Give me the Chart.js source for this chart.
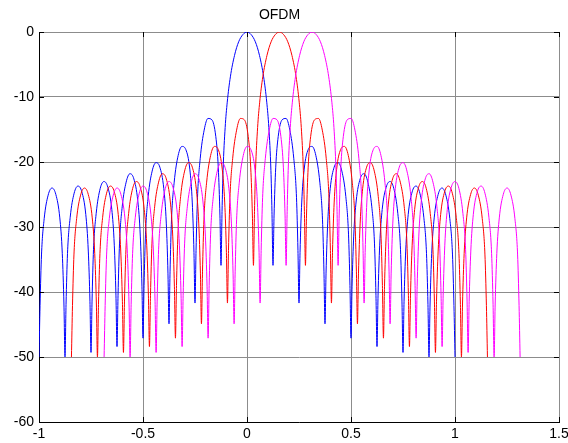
<!DOCTYPE html>
<html>
<head>
<meta charset="utf-8">
<title>OFDM</title>
<script src="https://cdn.jsdelivr.net/npm/chart.js@4.4.1/dist/chart.umd.min.js"></script>
<style>
  body { margin: 0; background: #fff; }
</style>
</head>
<body>
<canvas id="ofdm" width="568" height="443"></canvas>
<script>
// three subcarriers, same spectrum shape, centred at these frequencies
var carrierNames = ["Subcarrier 1", "Subcarrier 2", "Subcarrier 3"];
var carrierFreq = [0, 0.156, 0.313];
var carrierColors = ["#0000ff", "#ff0000", "#ff00ff"];

// frequency offset from the carrier centre
var offsetFreq = [
    -1,
    -0.995, -0.988, -0.975, -0.956, -0.9375, -0.919, -0.9, -0.888, -0.88,
    -0.875,
    -0.87, -0.863, -0.85, -0.831, -0.8125, -0.794, -0.775, -0.763, -0.755,
    -0.75,
    -0.745, -0.738, -0.725, -0.706, -0.6875, -0.669, -0.65, -0.638, -0.63,
    -0.625,
    -0.62, -0.613, -0.6, -0.581, -0.5625, -0.544, -0.525, -0.513, -0.505,
    -0.5,
    -0.495, -0.488, -0.475, -0.456, -0.4375, -0.419, -0.4, -0.388, -0.38,
    -0.375,
    -0.37, -0.363, -0.35, -0.331, -0.3125, -0.294, -0.275, -0.263, -0.255,
    -0.25,
    -0.245, -0.238, -0.225, -0.206, -0.1875, -0.169, -0.15, -0.138, -0.13,
    -0.125,
    -0.12, -0.115, -0.105, -0.095, -0.08, -0.06, -0.04, -0.02,
    0,
    0.02, 0.04, 0.06, 0.08, 0.095, 0.105, 0.115, 0.12,
    0.125,
    0.13, 0.138, 0.15, 0.169, 0.1875, 0.206, 0.225, 0.238, 0.245,
    0.25,
    0.255, 0.263, 0.275, 0.294, 0.3125, 0.331, 0.35, 0.363, 0.37,
    0.375,
    0.38, 0.388, 0.4, 0.419, 0.4375, 0.456, 0.475, 0.488, 0.495,
    0.5,
    0.505, 0.513, 0.525, 0.544, 0.5625, 0.581, 0.6, 0.613, 0.62,
    0.625,
    0.63, 0.638, 0.65, 0.669, 0.6875, 0.706, 0.725, 0.738, 0.745,
    0.75,
    0.755, 0.763, 0.775, 0.794, 0.8125, 0.831, 0.85, 0.863, 0.87,
    0.875,
    0.88, 0.888, 0.9, 0.919, 0.9375, 0.956, 0.975, 0.988, 0.995,
    1
];

// spectrum level in dB (floor at -50)
var levelDb = [
    -50,
    -42.1, -34.3, -28.7, -25.1, -24.0, -25.0, -28.6, -34.1, -42.0,
    -50,
    -41.9, -34.1, -28.5, -24.8, -23.7, -24.6, -28.1, -33.7, -41.5,
    -49.3,
    -41.4, -33.5, -27.9, -24.1, -23.0, -23.9, -27.3, -32.8, -40.6,
    -48.4,
    -40.5, -32.6, -26.9, -23.1, -21.8, -22.6, -26.0, -31.4, -39.2,
    -47.1,
    -39.0, -31.1, -25.3, -21.4, -20.1, -20.8, -24.1, -29.4, -37.1,
    -44.9,
    -36.9, -28.9, -23.1, -19.0, -17.6, -18.1, -21.1, -26.3, -33.9,
    -41.7,
    -33.6, -25.5, -19.5, -15.1, -13.3, -13.5, -16.1, -20.9, -28.3,
    -35.9,
    -27.6, -21.3, -14.7, -10.8, -6.9, -3.6, -1.5, -0.4,
    0,
    -0.4, -1.5, -3.6, -6.9, -10.8, -14.7, -21.3, -27.6,
    -35.9,
    -28.3, -20.9, -16.1, -13.5, -13.3, -15.1, -19.5, -25.5, -33.6,
    -41.7,
    -33.9, -26.3, -21.1, -18.1, -17.6, -19.0, -23.1, -28.9, -36.9,
    -44.9,
    -37.1, -29.4, -24.1, -20.8, -20.1, -21.4, -25.3, -31.1, -39.0,
    -47.1,
    -39.2, -31.4, -26.0, -22.6, -21.8, -23.1, -26.9, -32.6, -40.5,
    -48.4,
    -40.6, -32.8, -27.3, -23.9, -23.0, -24.1, -27.9, -33.5, -41.4,
    -49.3,
    -41.5, -33.7, -28.1, -24.6, -23.7, -24.8, -28.5, -34.1, -41.9,
    -50,
    -42.0, -34.1, -28.6, -25.0, -24.0, -25.1, -28.7, -34.3, -42.1,
    -50
];

var xTicks = [-1, -0.5, 0, 0.5, 1, 1.5];
var yTicks = [-60, -50, -40, -30, -20, -10, 0];

var font = { family: "'Liberation Sans', Arial, sans-serif", size: 14 };

var datasets = carrierFreq.map(function (fc, i) {
    return {
        label: carrierNames[i],
        data: offsetFreq.map(function (df, j) {
            return { x: fc + df, y: levelDb[j] };
        }),
        borderColor: carrierColors[i],
        borderWidth: 1,
        pointRadius: 0,
        fill: false,
        cubicInterpolationMode: "monotone",
        order: carrierFreq.length - i
    };
});

// small inward tick marks on all four sides, like the matlab axes box
var tickMarks = {
    id: "tickMarks",
    afterDatasetsDraw: function (chart) {
        var a = chart.chartArea;
        var c = chart.ctx;
        var xs = chart.scales.x;
        var ys = chart.scales.y;
        c.save();
        c.strokeStyle = "#000";
        c.lineWidth = 1;
        c.beginPath();
        xs.ticks.forEach(function (t) {
            var p = Math.round(xs.getPixelForValue(t.value)) + 0.5;
            c.moveTo(p, a.bottom); c.lineTo(p, a.bottom - 5);
            c.moveTo(p, a.top); c.lineTo(p, a.top + 5);
        });
        ys.ticks.forEach(function (t) {
            var p = Math.round(ys.getPixelForValue(t.value)) + 0.5;
            c.moveTo(a.left, p); c.lineTo(a.left + 5, p);
            c.moveTo(a.right, p); c.lineTo(a.right - 5, p);
        });
        c.stroke();
        c.restore();
    }
};

function plainLabel(v) {
    return String(v);
}

new Chart(document.getElementById("ofdm"), {
    type: "line",
    data: { datasets: datasets },
    options: {
        responsive: false,
        animation: false,
        layout: { padding: { left: 0, right: 9, top: 0, bottom: 0 } },
        plugins: {
            legend: { display: false },
            tooltip: { enabled: false },
            title: {
                display: true,
                text: "OFDM",
                color: "#000",
                font: { family: font.family, size: 14, weight: "normal" },
                padding: { top: 7, bottom: 8.2 }
            }
        },
        scales: {
            x: {
                type: "linear",
                min: -1,
                max: 1.5,
                afterBuildTicks: function (s) {
                    s.ticks = xTicks.map(function (v) { return { value: v }; });
                },
                afterFit: function (s) {
                    s.height = 21;
                    s.paddingLeft = 0;
                    s.paddingRight = 0;
                },
                grid: { color: "#8c8c8c", lineWidth: 1, drawTicks: false },
                border: { color: "#000", width: 1 },
                ticks: { color: "#000", font: font, padding: 4, maxRotation: 0, autoSkip: false, callback: plainLabel }
            },
            y: {
                type: "linear",
                min: -60,
                max: 0,
                afterBuildTicks: function (s) {
                    s.ticks = yTicks.map(function (v) { return { value: v }; });
                },
                afterFit: function (s) {
                    s.width = 39;
                },
                grid: { color: "#8c8c8c", lineWidth: 1, drawTicks: false },
                border: { color: "#000", width: 1 },
                ticks: { color: "#000", font: font, padding: 5, callback: plainLabel }
            }
        }
    },
    plugins: [tickMarks]
});
</script>
</body>
</html>
